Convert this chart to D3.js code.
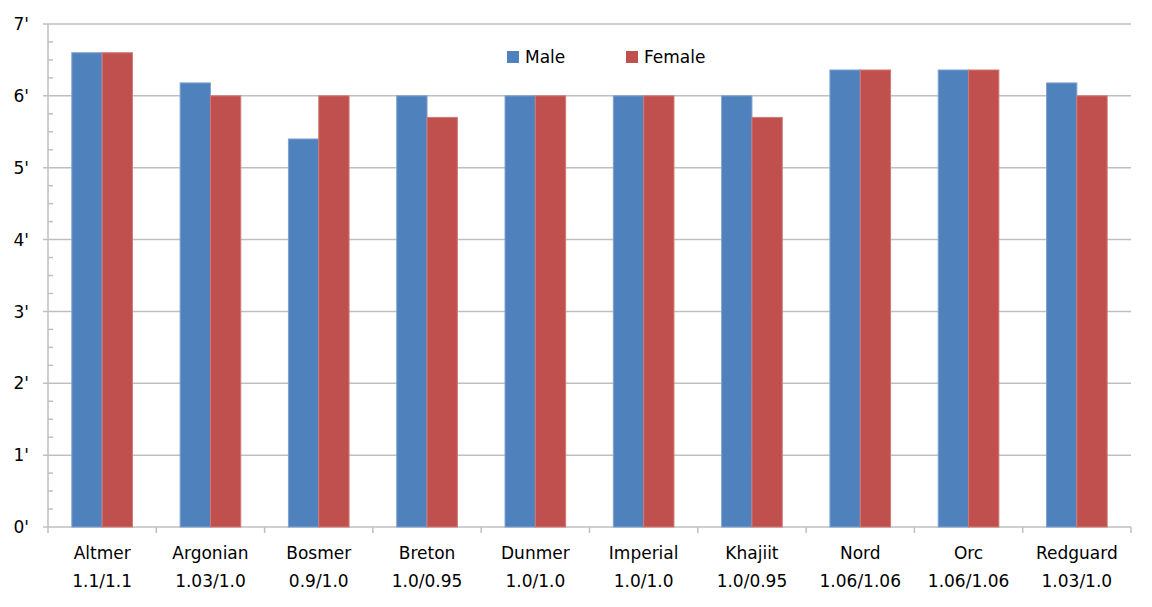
<!DOCTYPE html>
<html>
<head>
<meta charset="utf-8">
<script src="https://cdn.jsdelivr.net/npm/d3@7"></script>
<style>
  html, body { margin: 0; padding: 0; background: #fff; }
  svg { display: block; }
  text { font-family: "DejaVu Sans", sans-serif; fill: #000; }
</style>
</head>
<body>
<svg id="chart" width="1152" height="607"></svg>
<script>
// races with their height multipliers (male/female)
const races   = ['Altmer', 'Argonian', 'Bosmer', 'Breton', 'Dunmer', 'Imperial', 'Khajiit', 'Nord', 'Orc', 'Redguard'];
const ratios  = ['1.1/1.1', '1.03/1.0', '0.9/1.0', '1.0/0.95', '1.0/1.0', '1.0/1.0', '1.0/0.95', '1.06/1.06', '1.06/1.06', '1.03/1.0'];
const male    = [6.6, 6.18, 5.4, 6.0, 6.0, 6.0, 6.0, 6.36, 6.36, 6.18];
const female  = [6.6, 6.0, 6.0, 5.7, 6.0, 6.0, 5.7, 6.36, 6.36, 6.0];
const series  = ['Male', 'Female'];
const yTicks  = [0, 1, 2, 3, 4, 5, 6, 7];

const colors = { Male: '#4F81BD', Female: '#C0504D' };
const edges  = { Male: '#7FA2D0', Female: '#D07A77' };
const GRID = '#BFBFBF';

const svg = d3.select('#chart');
const m = { left: 48, right: 1131, top: 24, bottom: 527 };

const x = d3.scaleBand().domain(races).range([m.left, m.right]).paddingInner(0).paddingOuter(0);
const y = d3.scaleLinear().domain([0, 7]).range([m.bottom, m.top]);

// inner band for the two bars of a group
const groupW = x.bandwidth() * 0.56;
const xs = d3.scaleBand().domain(series).range([0, groupW]);
const off = (x.bandwidth() - groupW) / 2;

// gridlines
svg.append('g').selectAll('line')
    .data(yTicks)
    .join('line')
    .attr('x1', m.left - 5).attr('x2', m.right)
    .attr('y1', function (d) { return y(d); })
    .attr('y2', function (d) { return y(d); })
    .attr('stroke', GRID).attr('stroke-width', 1.5);

// minor ticks on the y axis (quarter feet)
const minor = d3.range(0, 7.001, 0.25).filter(function (d) { return d % 1 !== 0; });
svg.append('g').selectAll('line')
    .data(minor)
    .join('line')
    .attr('x1', m.left).attr('x2', m.left + 5)
    .attr('y1', function (d) { return y(d); })
    .attr('y2', function (d) { return y(d); })
    .attr('stroke', GRID).attr('stroke-width', 1.5);

// y axis line
svg.append('line')
    .attr('x1', m.left).attr('x2', m.left)
    .attr('y1', m.top).attr('y2', m.bottom + 6)
    .attr('stroke', GRID).attr('stroke-width', 1.5);

// category boundary ticks
svg.append('g').selectAll('line')
    .data(races)
    .join('line')
    .attr('x1', function (d) { return x(d) + x.bandwidth(); })
    .attr('x2', function (d) { return x(d) + x.bandwidth(); })
    .attr('y1', m.bottom).attr('y2', m.bottom + 6)
    .attr('stroke', GRID).attr('stroke-width', 1.5);

// y labels
svg.append('g').selectAll('text')
    .data(yTicks)
    .join('text')
    .attr('x', 29)
    .attr('y', function (d) { return y(d); })
    .attr('dy', '0.36em')
    .attr('text-anchor', 'end')
    .style('font-size', '17px')
    .text(function (d) { return d + "'"; });

// bars
const groups = svg.append('g').selectAll('g')
    .data(races)
    .join('g')
    .attr('transform', function (d) { return 'translate(' + (x(d) + off) + ',0)'; });

groups.selectAll('rect')
    .data(function (d, i) { return [{ s: 'Male', v: male[i] }, { s: 'Female', v: female[i] }]; })
    .join('rect')
    .attr('x', function (d) { return xs(d.s); })
    .attr('y', function (d) { return y(d.v); })
    .attr('width', xs.bandwidth())
    .attr('height', function (d) { return y(0) - y(d.v); })
    .attr('fill', function (d) { return colors[d.s]; })
    .attr('stroke', function (d) { return edges[d.s]; })
    .attr('stroke-width', 1);

// x labels
const labels = svg.append('g').selectAll('text')
    .data(races)
    .join('text')
    .attr('text-anchor', 'middle')
    .style('font-size', '17px')
    .attr('transform', function (d) { return 'translate(' + (x(d) + x.bandwidth() / 2) + ',0)'; });

labels.append('tspan').attr('x', 0).attr('y', 559).text(function (d) { return d; });
labels.append('tspan').attr('x', 0).attr('y', 587).text(function (d, i) { return ratios[i]; });

// legend
const legendX = [507, 626];
const legend = svg.append('g').selectAll('g')
    .data(series)
    .join('g')
    .attr('transform', function (d, i) { return 'translate(' + legendX[i] + ',51)'; });

legend.append('rect')
    .attr('width', 12).attr('height', 12)
    .attr('fill', function (d) { return colors[d]; });

legend.append('text')
    .attr('x', 18).attr('y', 12)
    .style('font-size', '17px')
    .text(function (d) { return d; });
</script>
</body>
</html>
